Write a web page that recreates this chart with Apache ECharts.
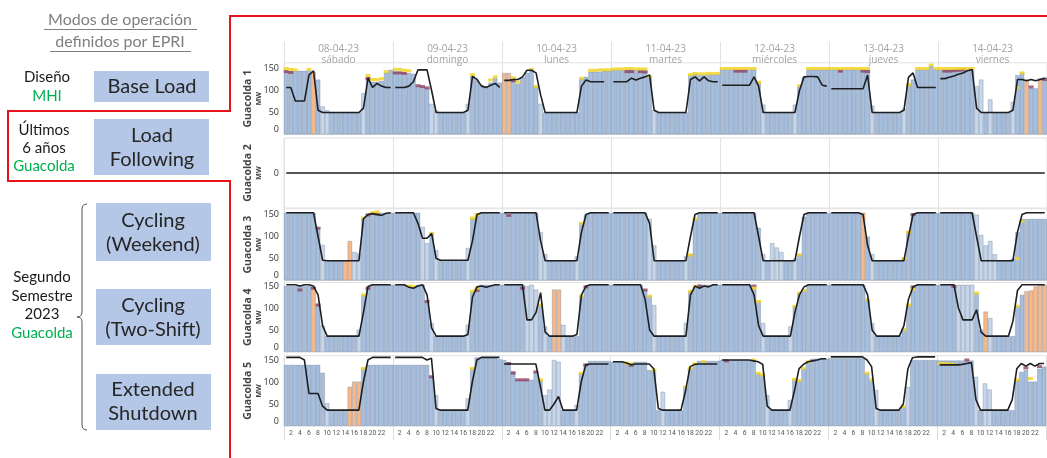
<!DOCTYPE html>
<html>
<head>
<meta charset="utf-8">
<script src="https://cdn.jsdelivr.net/npm/echarts@6.0.0/dist/echarts.min.js"></script>
<style>
html, body { margin: 0; padding: 0; background: #fff; }
#chart { width: 1047px; height: 458px; }
</style>
</head>
<body>
<div id="chart"></div>
<script>
// dias y horas
const dayDates = ['08-04-23', '09-04-23', '10-04-23', '11-04-23', '12-04-23', '13-04-23', '14-04-23'];
const dayNames = ['sábado', 'domingo', 'lunes', 'martes', 'miércoles', 'jueves', 'viernes'];
const hourLabels = ['1','2','3','4','5','6','7','8','9','10','11','12','13','14','15','16','17','18','19','20','21','22','23','24'];

// Guacolda 1
const g1Bars = [
  145,145,145,145,145,146,143,125,64,55,50,50,50,50,50,50,50,94,131,120,120,122,141,147,
  143,143,142,140,138,110,108,105,70,55,50,50,50,50,50,50,70,135,123,113,110,118,128,118,
  140,140,127,115,131,140,145,109,70,50,50,50,50,50,50,50,50,127,131,143,143,143,145,145,
  147,147,147,147,147,147,147,147,131,55,50,50,50,50,50,50,50,135,138,135,135,137,137,137,
  148,148,148,148,148,148,148,148,119,68,50,50,50,50,50,50,68,110,131,148,148,148,148,148,
  148,148,148,148,148,148,148,148,148,66,50,50,50,50,50,50,59,115,125,148,148,148,157,148,
  148,148,148,148,148,148,148,148,110,125,50,80,50,50,50,50,74,135,140,125,105,105,128,130
];
const g1Line = [
  107,107,76,76,76,135,145,55,50,50,50,50,50,50,50,50,50,60,128,107,116,110,107,107,
  107,107,107,110,120,147,147,147,100,50,50,50,50,50,50,50,55,132,125,110,107,112,116,107,
  123,123,125,125,131,146,146,140,90,50,50,50,50,50,50,50,50,110,124,120,120,120,120,null,
  120,120,120,120,128,124,128,131,135,55,50,50,50,50,50,50,50,125,131,122,131,122,120,120,
  112,112,112,112,112,112,112,131,110,50,50,50,50,50,50,50,50,100,131,132,132,131,112,110,
  104,104,104,104,104,104,104,104,135,50,50,50,50,50,50,50,55,130,140,107,107,107,107,107,
  127,127,130,133,137,140,145,148,60,50,50,50,50,50,50,50,55,125,125,122,125,122,125,128
];
const g1Orange = [6, 48, 49, 163, 166];
const g1Light = [8, 9, 17, 32, 33, 40, 56, 81, 105, 112, 129, 136, 152, 153, 155, 160];
const g1Yellow = [[0,150],[1,148],[2,147],[5,148],[18,134],[19,125],[20,125],[21,127],[22,143],
  [24,148],[25,148],[26,146],[27,145],[41,136],[45,124],[46,131],
  [50,129],[51,119],[54,148],[55,109],[65,128],[67,146],[68,146],[69,147],[70,147],[71,147],
  [72,149],[73,149],[74,149],[75,150],[76,150],[77,149],[78,149],[79,149],[80,132],[89,136],[90,139],[91,138],[92,138],[93,139],[94,139],[95,139],
  [96,150],[97,150],[98,150],[99,150],[100,150],[101,150],[102,150],[103,150],[104,119],[113,111],[115,150],[116,150],[117,150],[118,150],[119,150],
  [120,150],[121,150],[122,150],[123,150],[124,150],[125,150],[126,150],[127,150],[128,150],[137,113],[139,150],[140,150],[141,150],[142,158],[143,150],
  [144,150],[145,150],[146,150],[147,150],[148,150],[149,150],[150,150],[151,150],[161,106],[162,140]];
const g1Red = [[0,143],[1,141],[18,127],[24,140],[25,140],[26,139],[29,111],[30,109],[31,106],[50,122],
  [75,143],[76,143],[78,143],[79,142],[99,144],[100,144],[101,144],[122,144],[127,144],[128,143],
  [145,144],[146,144],[147,145],[148,146],[149,147],[164,108],[167,125]];

// Guacolda 2 (fuera de servicio)
const g2Line = [
  0,0,0,0,0,0,0,0,0,0,0,0,0,0,0,0,0,0,0,0,0,0,0,0,
  0,0,0,0,0,0,0,0,0,0,0,0,0,0,0,0,0,0,0,0,0,0,0,0,
  0,0,0,0,0,0,0,0,0,0,0,0,0,0,0,0,0,0,0,0,0,0,0,0,
  0,0,0,0,0,0,0,0,0,0,0,0,0,0,0,0,0,0,0,0,0,0,0,0,
  0,0,0,0,0,0,0,0,0,0,0,0,0,0,0,0,0,0,0,0,0,0,0,0,
  0,0,0,0,0,0,0,0,0,0,0,0,0,0,0,0,0,0,0,0,0,0,0,0,
  0,0,0,0,0,0,0,0,0,0,0,0,0,0,0,0,0,0,0,0,0,0,0,0
];

// Guacolda 3
const g3Bars = [
  154,154,154,154,154,154,154,119,81,47,45,45,45,45,90,65,62,142,149,153,152,154,154,154,
  154,154,154,154,154,154,122,85,107,69,46,46,46,46,46,46,74,142,150,154,154,154,154,154,
  154,150,154,154,154,154,154,154,110,60,45,45,45,45,45,45,55,130,150,154,154,154,154,154,
  154,154,154,154,154,154,154,154,140,80,45,45,45,45,45,45,55,60,140,154,154,154,154,154,
  154,154,154,154,154,154,154,154,120,60,45,85,75,65,45,45,50,60,145,154,154,154,154,154,
  154,154,154,154,154,154,154,154,100,60,45,45,45,45,45,45,50,110,150,154,154,154,154,154,
  154,154,154,154,154,154,154,154,150,104,80,90,60,45,45,45,50,110,140,140,140,140,140,140
];
const g3Line = [
  154,154,154,154,154,154,154,100,46,45,45,45,45,45,45,45,45,140,150,152,150,148,153,154,
  154,154,154,154,154,130,96,96,107,50,46,46,46,46,46,46,46,90,150,154,154,154,154,154,
  154,154,154,154,154,154,154,154,90,45,45,45,45,45,45,45,45,110,150,154,154,154,154,154,
  154,154,154,154,154,154,154,154,130,45,45,45,45,45,45,45,45,100,150,154,154,154,154,154,
  154,154,154,154,154,154,154,154,100,45,45,45,45,45,45,45,45,100,150,154,154,154,154,154,
  154,154,154,154,154,154,154,150,80,45,45,45,45,45,45,45,45,100,150,154,154,154,154,154,
  154,154,154,154,154,154,154,154,100,45,45,45,45,45,45,45,45,110,150,154,154,154,154,154
];
const g3Orange = [13, 14, 127];
const g3Light = [8, 15, 16, 30, 31, 33, 40, 56, 57, 64, 80, 81, 88, 105, 107, 108, 109, 112, 129, 152, 153, 154, 155, 156];
const g3Yellow = [[17,142],[19,154],[20,156],[32,107],[41,142],[42,150],[65,130],[89,58],[90,140],[113,58],[136,50],[137,110],[161,50],[162,135]];
const g3Red = [[7,119],[18,149],[20,151],[49,148],[138,150]];

// Guacolda 4
const g4Bars = [
  150,150,150,150,150,150,148,107,60,36,36,36,36,36,36,36,51,130,145,153,153,153,153,153,
  153,153,153,150,148,153,153,115,66,36,36,36,36,36,36,36,62,138,145,153,153,153,153,153,
  153,153,153,153,153,150,153,142,107,58,36,142,142,62,36,36,36,127,150,153,153,153,153,153,
  153,153,153,153,153,153,153,141,127,107,36,36,36,36,36,36,66,138,149,153,153,153,153,153,
  153,153,153,153,153,153,153,145,115,66,36,36,36,36,36,58,104,134,140,153,153,153,153,153,
  153,153,153,153,153,153,153,153,119,66,36,36,36,36,36,36,51,107,142,153,153,153,153,153,
  153,153,153,153,153,153,153,153,134,50,92,77,36,36,36,36,36,104,130,138,140,149,153,153
];
const g4Line = [
  153,153,153,150,153,153,150,130,60,36,36,36,36,36,36,36,36,90,149,153,153,153,153,153,
  153,153,153,147,145,150,153,130,55,36,36,36,36,36,36,36,40,125,148,150,147,150,153,153,
  153,153,153,153,153,73,73,90,135,45,36,36,36,36,36,36,40,130,150,153,153,153,153,153,
  153,153,153,153,153,153,153,120,50,36,36,36,36,36,36,36,36,130,150,145,150,148,153,153,
  153,153,153,153,153,153,153,130,60,36,36,36,36,36,36,36,90,130,148,153,153,153,153,153,
  153,153,153,153,153,153,153,153,130,50,36,36,36,36,36,36,60,120,148,153,153,153,153,153,
  153,153,153,153,100,73,73,73,96,45,36,36,36,36,36,36,70,140,153,153,153,153,153,153
];
const g4Orange = [6, 59, 60, 154, 163, 164, 165, 166, 167];
const g4Light = [8, 16, 32, 40, 53, 54, 55, 57, 61, 81, 88, 105, 111, 129, 148, 149, 150, 151, 155];
const g4Yellow = [[17,130],[27,150],[28,149],[41,138],[42,145],[56,107],[65,127],[80,127],[89,138],[90,149],
  [103,145],[104,115],[112,104],[113,134],[114,140],[128,119],[136,51],[137,107],[138,142],[152,134],[161,104]];
const g4Red = [[3,141],[6,145],[7,107],[18,145],[31,115],[42,140],[52,145],[66,148],[79,141],[91,150],[103,150],[138,148],[147,149]];

// Guacolda 5
const g5Bars = [
  139,139,139,139,139,139,139,139,121,52,36,36,36,36,89,101,101,131,139,139,139,139,139,139,
  139,139,139,139,139,139,139,139,112,70,36,36,36,36,36,36,63,131,156,156,156,156,156,152,
  150,145,125,105,105,105,105,123,105,70,83,150,146,36,36,36,48,120,139,148,148,148,148,148,
  146,146,146,143,143,146,146,146,127,127,36,78,36,36,36,36,89,131,141,148,148,148,148,148,
  150,150,150,150,150,150,150,150,120,116,70,36,36,36,36,59,106,103,131,146,153,153,153,153,
  154,154,154,154,154,154,154,154,120,105,82,36,36,36,36,36,44,89,150,150,150,150,150,150,
  149,149,149,149,149,149,149,149,112,36,97,83,36,36,36,36,36,105,123,127,101,101,130,135
];
const g5Line = [
  156,156,156,156,150,74,74,74,45,36,36,36,36,36,36,36,36,100,150,156,156,156,156,156,
  156,156,156,156,156,156,156,150,154,40,36,36,36,36,36,36,36,100,150,156,156,156,156,156,
  141,141,141,141,141,141,141,141,90,36,36,50,67,36,36,36,36,100,139,141,141,141,141,141,
  146,146,146,143,139,141,141,141,141,130,40,36,36,36,36,36,80,135,140,141,141,141,141,141,
  150,150,150,150,150,150,150,148,146,140,45,36,36,36,36,36,80,130,140,146,148,150,153,153,
  157,157,157,157,157,157,157,157,150,135,40,36,36,36,36,36,50,130,155,157,157,157,157,157,
  139,139,139,139,139,140,142,144,60,36,36,36,36,36,36,36,60,130,142,136,142,136,142,142
];
const g5Orange = [14, 15, 16];
const g5Light = [9, 33, 40, 57, 58, 59, 60, 64, 83, 106, 111, 130, 137, 152, 154, 155];
const g5Yellow = [[17,131],[41,131],[56,105],[65,120],[75,143],[76,141],[81,127],[88,89],[89,131],[90,141],[92,146],
  [103,150],[104,120],[105,116],[112,106],[113,103],[114,131],[115,146],[128,120],[129,105],[136,44],
  [144,142],[145,142],[146,141],[147,140],[161,105],[164,108]];
const g5Red = [[32,112],[49,142],[50,120],[51,105],[52,105],[53,105],[55,123],[66,139],[76,138],[97,148],[150,150],[163,132],[166,135]];

const BLUE = '#a7bfdc';
const LIGHT = '#c7d6e8';
const ORANGE = '#f6ba8a';
const YELLOW = '#f2d21b';
const MAUVE = '#8e4464';

const units = [
  { bars: g1Bars, line: g1Line, orange: g1Orange, light: g1Light, yellow: g1Yellow, red: g1Red },
  { bars: null, line: g2Line },
  { bars: g3Bars, line: g3Line, orange: g3Orange, light: g3Light, yellow: g3Yellow, red: g3Red },
  { bars: g4Bars, line: g4Line, orange: g4Orange, light: g4Light, yellow: g4Yellow, red: g4Red },
  { bars: g5Bars, line: g5Line, orange: g5Orange, light: g5Light, yellow: g5Yellow, red: g5Red }
];

// posicion de cada panel
const gridTop = [62.8, 138, 208.8, 282.5, 355.6];
const gridH = [71.7, 70, 71.7, 69.5, 70.4];
const yMax = [163, 1, 163, 158, 160];

const hourCats = [];
dayDates.forEach(() => hourLabels.forEach(h => hourCats.push(h)));

const grids = [], xAxes = [], yAxes = [], series = [];
const dayStart = i => i % 24 === 0;

units.forEach((u, k) => {
  const last = k === 4;
  grids.push({ left: 284, width: 766.5, top: gridTop[k], height: gridH[k], show: true, borderColor: '#e2e2e2', borderWidth: 1 });
  xAxes.push({
    type: 'category', gridIndex: k, data: hourCats, boundaryGap: true,
    axisLine: { show: false },
    axisTick: { show: last, interval: dayStart, length: 14, lineStyle: { color: '#dcdcdc' } },
    axisLabel: {
      show: last, interval: 0, fontSize: 6.8, color: '#555', margin: 4, fontFamily: 'Roboto',
      formatter: (v, i) => ((i % 24) % 2 === 1 && (i % 24) !== 23) ? v : ''
    },
    splitLine: { show: true, interval: dayStart, lineStyle: { color: '#e2e2e2' } }
  });
  yAxes.push({
    type: 'value', gridIndex: k,
    min: k === 1 ? -1 : 0, max: yMax[k], interval: k === 1 ? 1 : 50,
    axisLine: { show: false }, axisTick: { show: false }, splitLine: { show: false },
    axisLabel: {
      fontSize: 9, color: '#333', margin: 5, fontFamily: 'Open Sans',
      formatter: v => k === 1 ? (v === 0 ? '0' : '') : (v === 0 ? '{z|0}' : (v % 50 === 0 ? String(v) : '')),
      rich: { z: { fontSize: 9, color: '#333', fontFamily: 'Open Sans', padding: [0, 0, 10, 0] } }
    },
    name: '{a|Guacolda ' + (k + 1) + '}\n{b|MW}',
    nameLocation: 'middle', nameRotate: 90, nameGap: 21, nameMoveOverlap: false,
    nameTextStyle: {
      lineHeight: 11,
      rich: {
        a: { fontSize: 10.5, fontWeight: 'bold', color: '#444', fontFamily: 'Open Sans', lineHeight: 12 },
        b: { fontSize: 7, fontWeight: 'bold', color: '#444', fontFamily: 'Open Sans', lineHeight: 9 }
      }
    }
  });

  if (u.bars) {
    series.push({
      type: 'bar', xAxisIndex: k, yAxisIndex: k, barCategoryGap: '0%', z: 2, silent: true,
      itemStyle: { borderColor: 'rgba(70,95,130,0.45)', borderWidth: 0.6 },
      data: u.bars.map((v, i) => ({
        value: v,
        itemStyle: { color: u.orange.includes(i) ? ORANGE : (u.light.includes(i) ? LIGHT : BLUE) }
      }))
    });
    series.push({ type: 'scatter', xAxisIndex: k, yAxisIndex: k, symbol: 'rect', symbolSize: [5, 3], z: 3, silent: true,
      itemStyle: { color: MAUVE }, data: u.red });
    series.push({ type: 'scatter', xAxisIndex: k, yAxisIndex: k, symbol: 'rect', symbolSize: [5, 3], z: 3, silent: true,
      itemStyle: { color: YELLOW }, data: u.yellow });
    // la linea se corta entre dias
    [0, 1].forEach(p => {
      series.push({
        type: 'line', xAxisIndex: k, yAxisIndex: k, symbol: 'none', z: 5, silent: true,
        lineStyle: { color: '#1d1f22', width: 1.6 },
        data: u.line.map((v, i) => Math.floor(i / 24) % 2 === p ? v : null)
      });
    });
  } else {
    series.push({ type: 'line', xAxisIndex: k, yAxisIndex: k, symbol: 'none', z: 5, silent: true,
      lineStyle: { color: '#555', width: 2 }, data: u.line });
  }
});

// cabecera de dias
xAxes.push({
  type: 'category', gridIndex: 0, position: 'top',
  data: dayDates.map((d, i) => d + '\n' + dayNames[i]),
  axisLine: { show: false },
  axisTick: { show: true, length: 21, lineStyle: { color: '#e2e2e2' } },
  axisLabel: { color: '#a3a3a3', fontSize: 10, lineHeight: 11, margin: -3, fontFamily: 'Open Sans' },
  splitLine: { show: false }
});

const txt = (text, x, y, size, color, extra) => ({
  type: 'text', silent: true,
  style: Object.assign({ text: text, x: x, y: y, fill: color, fontSize: size, fontFamily: 'Lato', align: 'center', verticalAlign: 'middle' }, extra || {})
});
const box = (x, y, w, h) => ({ type: 'rect', silent: true, shape: { x: x, y: y, width: w, height: h }, style: { fill: '#b4c7e7' } });
const seg = (x1, y1, x2, y2) => ({ type: 'line', silent: true, shape: { x1: x1, y1: y1, x2: x2, y2: y2 }, style: { stroke: '#555', lineWidth: 1 } });
const curve = (x1, y1, cx, cy, x2, y2) => ({ type: 'bezierCurve', silent: true,
  shape: { x1: x1, y1: y1, cpx1: cx, cpy1: cy, x2: x2, y2: y2 }, style: { stroke: '#555', lineWidth: 1, fill: 'none' } });

const graphic = [
  txt('Modos de operación', 120, 20, 16, '#7f7f7f'),
  txt('definidos por EPRI', 120, 42, 16, '#7f7f7f'),
  { type: 'line', silent: true, shape: { x1: 44, y1: 29.5, x2: 197, y2: 29.5 }, style: { stroke: '#7f7f7f', lineWidth: 1 } },
  { type: 'line', silent: true, shape: { x1: 50, y1: 51.5, x2: 191, y2: 51.5 }, style: { stroke: '#7f7f7f', lineWidth: 1 } },

  box(94, 71, 115, 31),
  txt('Base Load', 152, 87, 20, '#262626'),
  box(94, 119, 115, 56),
  txt('Load\nFollowing', 152, 148, 20, '#262626', { lineHeight: 24 }),
  box(96, 203, 115, 58),
  txt('Cycling\n(Weekend)', 153, 233, 20, '#262626', { lineHeight: 24 }),
  box(96, 289, 115, 56),
  txt('Cycling\n(Two-Shift)', 153, 318, 20, '#262626', { lineHeight: 24 }),
  box(96, 374, 115, 56),
  txt('Extended\nShutdown', 153, 402, 20, '#262626', { lineHeight: 24 }),

  txt('Diseño', 47, 77, 15, '#1a1a1a'),
  txt('MHI', 47, 96, 15, '#00b050'),
  txt('Últimos', 44, 130, 15, '#1a1a1a'),
  txt('6 años', 44, 148, 15, '#1a1a1a'),
  txt('Guacolda', 44, 166, 15, '#00b050'),
  txt('Segundo', 42, 277, 15, '#1a1a1a'),
  txt('Semestre', 42, 296, 15, '#1a1a1a'),
  txt('2023', 42, 314, 15, '#1a1a1a'),
  txt('Guacolda', 42, 333, 15, '#00b050'),

  // llave
  curve(87, 204, 82, 204, 82, 209),
  seg(82, 209, 82, 312),
  curve(82, 312, 82, 317, 77, 317),
  curve(77, 317, 82, 317, 82, 322),
  seg(82, 322, 82, 425),
  curve(82, 425, 82, 430, 87, 430),

  { type: 'polyline', silent: true,
    shape: { points: [[1047, 16], [230, 16], [230, 111], [8, 111], [8, 181], [230, 181], [230, 458]] },
    style: { fill: 'none', stroke: '#e8121b', lineWidth: 2 } }
];

const chart = echarts.init(document.getElementById('chart'));
chart.setOption({
  animation: false,
  backgroundColor: '#fff',
  grid: grids,
  xAxis: xAxes,
  yAxis: yAxes,
  series: series,
  graphic: graphic
});
</script>
</body>
</html>
